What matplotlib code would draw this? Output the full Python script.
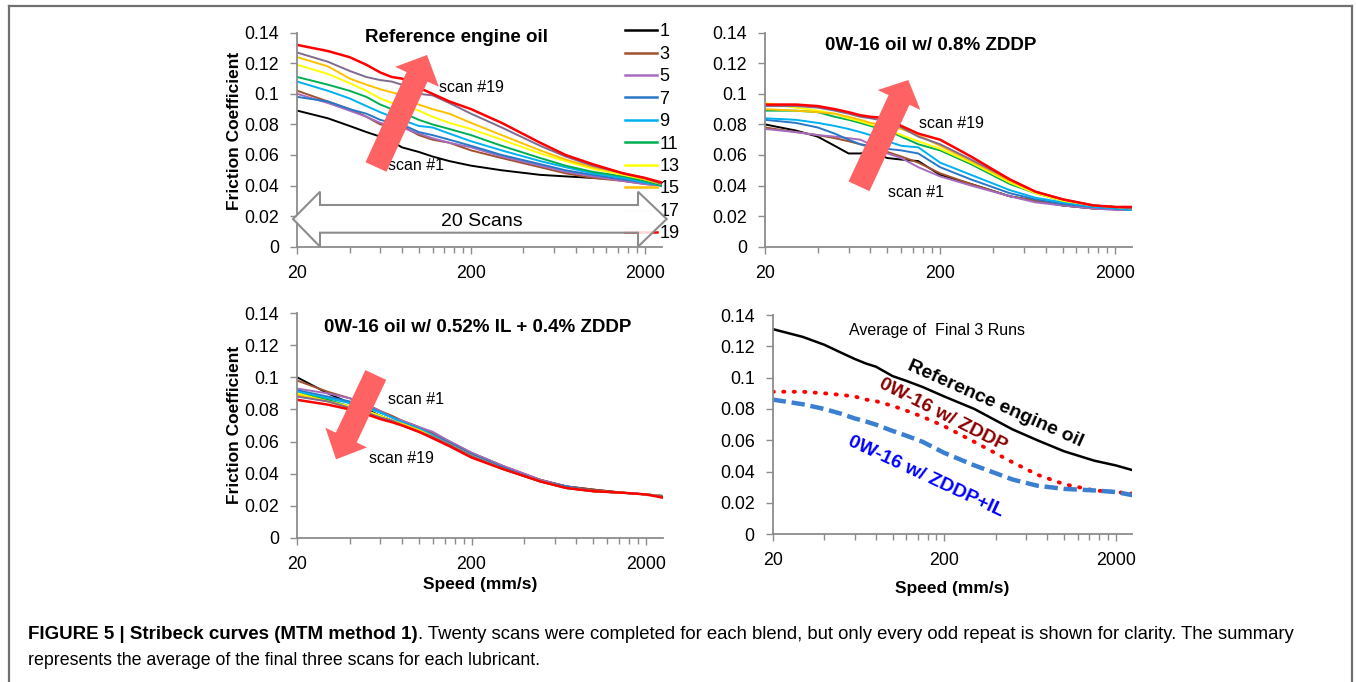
import matplotlib
matplotlib.use("Agg")
import matplotlib.pyplot as plt
from matplotlib.patches import FancyArrow, Polygon
from matplotlib.lines import Line2D
from matplotlib.ticker import FixedLocator, FuncFormatter, NullFormatter

plt.rcParams["font.family"] = ["Liberation Sans", "DejaVu Sans"]

# ---- data ----
speed = [20, 30, 40, 50, 60, 70, 80, 100, 120, 150, 200, 300, 500, 700, 1000, 1500, 2000, 2500]
scan_ids = [1, 3, 5, 7, 9, 11, 13, 15, 17, 19]
scan_colors = ["#000000", "#a0522d", "#a66bbe", "#2878c8", "#00b0f0",
               "#00b050", "#ffff00", "#ffc000", "#7e6b8f", "#ff0000"]

ref_scans = [
    [0.089, 0.084, 0.079, 0.075, 0.072, 0.069, 0.065, 0.062, 0.059, 0.056, 0.053, 0.050, 0.047, 0.046, 0.045, 0.044, 0.043, 0.041],
    [0.102, 0.095, 0.090, 0.085, 0.080, 0.079, 0.079, 0.073, 0.070, 0.068, 0.063, 0.058, 0.052, 0.048, 0.045, 0.043, 0.041, 0.040],
    [0.100, 0.094, 0.089, 0.085, 0.081, 0.079, 0.078, 0.074, 0.071, 0.068, 0.065, 0.059, 0.053, 0.049, 0.046, 0.043, 0.041, 0.040],
    [0.098, 0.095, 0.090, 0.087, 0.083, 0.081, 0.080, 0.075, 0.073, 0.070, 0.066, 0.060, 0.054, 0.050, 0.047, 0.044, 0.042, 0.040],
    [0.108, 0.102, 0.097, 0.092, 0.088, 0.085, 0.083, 0.079, 0.078, 0.074, 0.069, 0.063, 0.056, 0.052, 0.048, 0.045, 0.042, 0.040],
    [0.111, 0.106, 0.102, 0.098, 0.093, 0.090, 0.088, 0.083, 0.080, 0.077, 0.073, 0.066, 0.058, 0.053, 0.049, 0.046, 0.043, 0.040],
    [0.119, 0.113, 0.107, 0.102, 0.097, 0.094, 0.093, 0.089, 0.085, 0.081, 0.077, 0.070, 0.061, 0.056, 0.051, 0.047, 0.044, 0.041],
    [0.124, 0.118, 0.110, 0.106, 0.103, 0.101, 0.099, 0.093, 0.090, 0.087, 0.081, 0.073, 0.063, 0.057, 0.052, 0.048, 0.044, 0.041],
    [0.127, 0.121, 0.115, 0.111, 0.109, 0.108, 0.106, 0.100, 0.099, 0.094, 0.087, 0.078, 0.066, 0.059, 0.053, 0.048, 0.045, 0.041],
    [0.132, 0.128, 0.124, 0.119, 0.114, 0.111, 0.110, 0.104, 0.100, 0.095, 0.090, 0.081, 0.068, 0.060, 0.054, 0.048, 0.045, 0.042],
]

zddp_scans = [
    [0.080, 0.076, 0.072, 0.066, 0.061, 0.061, 0.062, 0.058, 0.057, 0.056, 0.047, 0.041, 0.033, 0.030, 0.027, 0.025, 0.025, 0.024],
    [0.078, 0.075, 0.073, 0.071, 0.069, 0.067, 0.065, 0.062, 0.059, 0.055, 0.048, 0.041, 0.033, 0.030, 0.027, 0.025, 0.025, 0.024],
    [0.077, 0.075, 0.073, 0.072, 0.071, 0.070, 0.067, 0.061, 0.058, 0.052, 0.046, 0.040, 0.033, 0.029, 0.027, 0.025, 0.024, 0.024],
    [0.083, 0.081, 0.078, 0.074, 0.070, 0.067, 0.066, 0.064, 0.063, 0.061, 0.052, 0.044, 0.035, 0.031, 0.028, 0.026, 0.025, 0.024],
    [0.084, 0.083, 0.081, 0.079, 0.077, 0.075, 0.073, 0.069, 0.066, 0.065, 0.055, 0.047, 0.037, 0.032, 0.029, 0.026, 0.025, 0.024],
    [0.089, 0.089, 0.088, 0.085, 0.083, 0.081, 0.079, 0.076, 0.072, 0.067, 0.063, 0.054, 0.041, 0.035, 0.030, 0.027, 0.026, 0.025],
    [0.094, 0.091, 0.089, 0.087, 0.084, 0.082, 0.080, 0.077, 0.073, 0.069, 0.064, 0.055, 0.042, 0.035, 0.030, 0.027, 0.026, 0.025],
    [0.090, 0.089, 0.088, 0.087, 0.085, 0.083, 0.081, 0.079, 0.077, 0.073, 0.066, 0.056, 0.043, 0.036, 0.031, 0.027, 0.026, 0.025],
    [0.092, 0.092, 0.091, 0.089, 0.087, 0.085, 0.084, 0.082, 0.078, 0.072, 0.067, 0.057, 0.044, 0.036, 0.031, 0.027, 0.026, 0.025],
    [0.093, 0.093, 0.092, 0.090, 0.088, 0.086, 0.085, 0.084, 0.079, 0.074, 0.070, 0.059, 0.044, 0.036, 0.031, 0.027, 0.026, 0.026],
]

il_scans = [
    [0.100, 0.090, 0.084, 0.080, 0.076, 0.073, 0.071, 0.067, 0.064, 0.059, 0.052, 0.044, 0.036, 0.032, 0.030, 0.028, 0.027, 0.026],
    [0.098, 0.091, 0.087, 0.083, 0.079, 0.076, 0.073, 0.069, 0.065, 0.060, 0.053, 0.045, 0.036, 0.032, 0.030, 0.028, 0.027, 0.026],
    [0.093, 0.090, 0.087, 0.083, 0.079, 0.075, 0.073, 0.069, 0.066, 0.060, 0.053, 0.045, 0.036, 0.032, 0.029, 0.028, 0.027, 0.026],
    [0.092, 0.088, 0.085, 0.082, 0.078, 0.075, 0.072, 0.068, 0.064, 0.059, 0.052, 0.044, 0.035, 0.032, 0.029, 0.028, 0.027, 0.026],
    [0.091, 0.087, 0.084, 0.081, 0.078, 0.075, 0.072, 0.068, 0.064, 0.058, 0.051, 0.043, 0.035, 0.031, 0.029, 0.028, 0.027, 0.026],
    [0.090, 0.086, 0.082, 0.079, 0.076, 0.073, 0.071, 0.067, 0.063, 0.058, 0.051, 0.043, 0.035, 0.031, 0.029, 0.028, 0.027, 0.026],
    [0.090, 0.085, 0.082, 0.079, 0.076, 0.073, 0.071, 0.067, 0.063, 0.058, 0.051, 0.043, 0.035, 0.031, 0.029, 0.028, 0.027, 0.026],
    [0.089, 0.085, 0.081, 0.078, 0.075, 0.073, 0.071, 0.067, 0.063, 0.058, 0.051, 0.043, 0.035, 0.031, 0.029, 0.028, 0.027, 0.026],
    [0.088, 0.085, 0.081, 0.078, 0.075, 0.073, 0.070, 0.066, 0.063, 0.058, 0.051, 0.043, 0.035, 0.031, 0.029, 0.028, 0.027, 0.026],
    [0.086, 0.083, 0.080, 0.077, 0.074, 0.072, 0.070, 0.066, 0.062, 0.057, 0.050, 0.043, 0.035, 0.031, 0.029, 0.028, 0.027, 0.025],
]

avg_ref = [0.131, 0.126, 0.121, 0.116, 0.112, 0.109, 0.107, 0.101, 0.098, 0.094, 0.088, 0.080, 0.067, 0.060, 0.053, 0.047, 0.044, 0.041]
avg_zddp = [0.091, 0.091, 0.090, 0.089, 0.088, 0.086, 0.085, 0.082, 0.079, 0.075, 0.069, 0.059, 0.046, 0.038, 0.032, 0.028, 0.027, 0.026]
avg_zddp_il = [0.086, 0.083, 0.080, 0.077, 0.074, 0.072, 0.070, 0.066, 0.063, 0.059, 0.052, 0.044, 0.035, 0.031, 0.029, 0.028, 0.027, 0.025]

yticks = [0, 0.02, 0.04, 0.06, 0.08, 0.1, 0.12, 0.14]
xmajor = [20, 200, 2000]
xminor = [40, 60, 80, 100, 120, 140, 160, 180,
          400, 600, 800, 1000, 1200, 1400, 1600, 1800]

caption_bold = "FIGURE 5 | Stribeck curves (MTM method 1)"
caption_line1 = ". Twenty scans were completed for each blend, but only every odd repeat is shown for clarity. The summary"
caption_line2 = "represents the average of the final three scans for each lubricant."

W, H = 1356, 682
fig = plt.figure(figsize=(W / 100, H / 100), dpi=100)
GRAY = "#8c8c8c"


def fx(x):
    return x / W


def fy(y):
    return 1 - y / H


def panel(left, top, right, bottom):
    ax = fig.add_axes([fx(left), fy(bottom), (right - left) / W, (bottom - top) / H])
    ax.set_xscale("log")
    ax.set_xlim(20, 2500)
    ax.set_ylim(0, 0.14)
    ax.xaxis.set_major_locator(FixedLocator(xmajor))
    ax.xaxis.set_minor_locator(FixedLocator(xminor))
    ax.xaxis.set_major_formatter(FuncFormatter(lambda v, p: f"{v:g}"))
    ax.xaxis.set_minor_formatter(NullFormatter())
    ax.set_yticks(yticks)
    ax.set_yticklabels([f"{v:g}" for v in yticks])
    for s in ["top", "right"]:
        ax.spines[s].set_visible(False)
    for s in ["left", "bottom"]:
        ax.spines[s].set_color(GRAY)
        ax.spines[s].set_linewidth(1.3)
    ax.tick_params(which="both", color=GRAY, width=1, labelsize=12.8)
    ax.tick_params(axis="x", which="major", length=5, pad=8)
    ax.tick_params(axis="x", which="minor", length=4)
    ax.tick_params(axis="y", length=5, pad=8)
    ax.patch.set_alpha(0)
    return ax


def plot_scans(ax, scans, lw=1.4):
    lines = []
    for sid, vals, c in zip(scan_ids, scans, scan_colors):
        ln, = ax.plot(speed, vals, color=c, lw=1.8 if sid == 19 else lw, label=str(sid))
        lines.append(ln)
    return lines


def big_arrow(tail, tip, width, head_w, head_l):
    x0, y0 = tail[0] / 100, (H - tail[1]) / 100
    x1, y1 = tip[0] / 100, (H - tip[1]) / 100
    arr = FancyArrow(x0, y0, x1 - x0, y1 - y0, width=width / 100,
                     head_width=head_w / 100, head_length=head_l / 100,
                     length_includes_head=True, transform=fig.dpi_scale_trans,
                     color="#ff6262", lw=0, zorder=5)
    fig.add_artist(arr)


def ftext(x, y, s, **kw):
    kw.setdefault("ha", "center")
    kw.setdefault("va", "center")
    return fig.text(fx(x), fy(y), s, **kw)


# ---- panel 1: reference oil ----
ax1 = panel(297.3, 32.7, 661.7, 246.7)
plot_scans(ax1, ref_scans)
leg = ax1.legend(loc="upper left", bbox_to_anchor=(fx(625), fy(23.5)),
                 bbox_transform=fig.transFigure, frameon=False, fontsize=13,
                 handlelength=1.75, handletextpad=0.15, labelspacing=0.3,
                 borderpad=0, borderaxespad=0)
for ln in leg.get_lines():
    ln.set_linewidth(1.8)
leg.get_lines()[8].set_color("#eeeeee")
ftext(456, 38, "Reference engine oil", fontsize=13.5, fontweight="bold")
ftext(234.5, 131, "Friction Coefficient", fontsize=12.5, fontweight="bold", rotation=90)
ftext(471, 88, "scan #19", fontsize=11.5)
ftext(415.5, 166, "scan #1", fontsize=11.5)
big_arrow((376, 167), (427, 55), 23, 48, 24)

# double arrow "20 Scans"
pts = [(293, 219), (320, 191.7), (320, 205), (638, 205), (638, 191.7), (666.7, 219),
       (638, 246.7), (638, 232.7), (320, 232.7), (320, 246.7)]
dbl = Polygon([(x / 100, (H - y) / 100) for x, y in pts], closed=True,
              transform=fig.dpi_scale_trans, facecolor=(1, 1, 1, 0.85),
              edgecolor=GRAY, lw=1.5, zorder=6)
fig.add_artist(dbl)
ftext(482, 222, "20 Scans", fontsize=14, zorder=7)

# ---- panel 2: 0.8% ZDDP ----
ax2 = panel(765, 32.7, 1132.3, 246.7)
plot_scans(ax2, zddp_scans)
ftext(931, 45, "0W-16 oil w/ 0.8% ZDDP", fontsize=13.5, fontweight="bold")
ftext(951, 123, "scan #19", fontsize=11.5)
ftext(915.7, 192.5, "scan #1", fontsize=11.5)
big_arrow((859, 186.3), (908.3, 80), 23, 47, 22)

# ---- panel 3: IL + ZDDP ----
ax3 = panel(297.3, 313.3, 662.7, 537.7)
plot_scans(ax3, il_scans)
ftext(477.5, 328, "0W-16 oil w/ 0.52% IL + 0.4% ZDDP", fontsize=13.5, fontweight="bold")
ftext(234.5, 425, "Friction Coefficient", fontsize=12.5, fontweight="bold", rotation=90)
ftext(480, 585, "Speed (mm/s)", fontsize=12.5, fontweight="bold")
ftext(416, 400, "scan #1", fontsize=11.5)
ftext(401.7, 458.7, "scan #19", fontsize=11.5)
big_arrow((375.8, 375), (336, 459.3), 23, 46, 24)

# ---- panel 4: averages ----
ax4 = panel(772.7, 315, 1132.3, 534.3)
ax4.plot(speed, avg_ref, color="black", lw=1.8)
ax4.plot(speed, avg_zddp, color="#ff0000", lw=2.8, ls=(0, (0.3, 2.4)), dash_capstyle="round")
ax4.plot(speed, avg_zddp_il, color="#3a7fd0", lw=3.2, ls=(0, (3, 1.3)))
ftext(937, 330, "Average of  Final 3 Runs", fontsize=11.5)
ftext(995, 404, "Reference engine oil", fontsize=14, fontweight="bold",
      rotation=-24, rotation_mode="anchor")
ftext(943, 415, "0W-16 w/ ZDDP", fontsize=14, fontweight="bold", color="#8b0000",
      rotation=-27, rotation_mode="anchor")
ftext(926, 477, "0W-16 w/ ZDDP+IL", fontsize=14, fontweight="bold", color="#0000ff",
      rotation=-25, rotation_mode="anchor")
ftext(952, 589, "Speed (mm/s)", fontsize=12.5, fontweight="bold")

# ---- frame and caption ----
for xs, ys in [([8.7, 8.7], [682, 5.7]), ([8.7, 1352.3], [5.7, 5.7]), ([1352.3, 1352.3], [5.7, 682])]:
    fig.add_artist(Line2D([fx(x) for x in xs], [fy(y) for y in ys],
                          transform=fig.transFigure, color="#707070", lw=1.6))

renderer = fig.canvas.get_renderer()
cap_bold = ftext(28, 639, caption_bold, fontsize=13.5, fontweight="bold",
                 ha="left", va="baseline")
bb = cap_bold.get_window_extent(renderer)
fig.text(bb.x1 / W, fy(639), caption_line1, fontsize=13.3, ha="left", va="baseline")
ftext(28, 665, caption_line2, fontsize=12.8, ha="left", va="baseline")

fig.savefig("out.png", dpi=100)
